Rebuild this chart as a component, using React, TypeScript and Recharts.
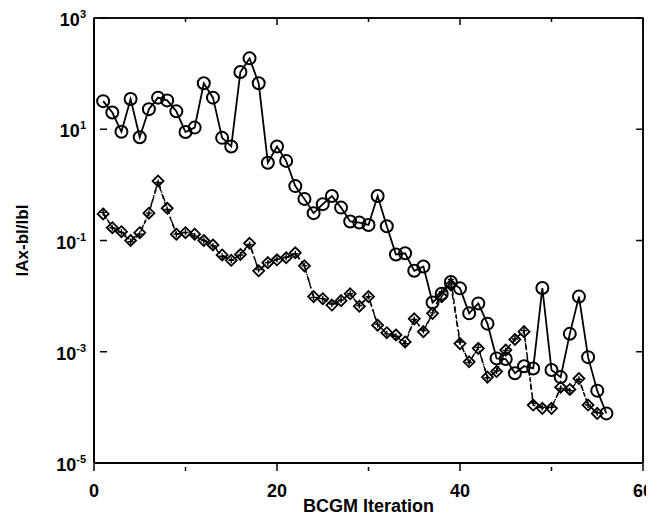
import { Line, LineChart, ReferenceArea, ReferenceLine, XAxis, YAxis } from "recharts";

const ITERATIONS = [
  1, 2, 3, 4, 5, 6, 7, 8, 9, 10, 11, 12, 13, 14, 15, 16, 17, 18, 19, 20,
  21, 22, 23, 24, 25, 26, 27, 28, 29, 30, 31, 32, 33, 34, 35, 36, 37, 38, 39, 40,
  41, 42, 43, 44, 45, 46, 47, 48, 49, 50, 51, 52, 53, 54, 55, 56
];

// solid line, open circles
const CIRCLE_RES = [
  32, 20, 9, 35, 7.2, 23, 37, 33, 21, 8.9, 10.7, 67, 37, 7, 4.9, 107, 188, 67, 2.5, 4.9,
  2.7, 0.95, 0.56, 0.31, 0.45, 0.63, 0.39, 0.22, 0.21, 0.19, 0.63, 0.18, 0.056, 0.059, 0.0285, 0.034, 0.0077, 0.011, 0.018, 0.0138,
  0.0049, 0.0074, 0.0032, 0.00076, 0.00074, 0.00041, 0.00055, 0.0005, 0.014, 0.00047, 0.00035, 0.0021, 0.0098, 0.0008, 0.0002, 0.000078
];

// dash-dot line, diamonds
const DIAMOND_RES = [
  0.3, 0.17, 0.144, 0.1, 0.138, 0.31, 1.17, 0.38, 0.13, 0.138, 0.13, 0.1, 0.083, 0.055, 0.044, 0.056, 0.089, 0.0285, 0.04, 0.045,
  0.049, 0.06, 0.035, 0.0098, 0.009, 0.0069, 0.0083, 0.011, 0.0066, 0.0098, 0.003, 0.0022, 0.002, 0.0015, 0.0039, 0.0023, 0.0049, 0.0098, 0.0159, 0.0014,
  0.00066, 0.00115, 0.00035, 0.00044, 0.00107, 0.00166, 0.0023, 0.00011, 0.000096, 0.000096, 0.00023, 0.00021, 0.00033, 0.00011, 0.000078
];

// dashed line, plus marks
const PLUS_RES = [
  0.32, 0.17, 0.14, 0.095, 0.13, 0.31, 1.1, 0.36, 0.13, 0.14, 0.12, 0.1, 0.08, 0.052, 0.044, 0.055, 0.085, 0.03, 0.04, 0.046,
  0.05, 0.058, 0.035, 0.0095, 0.009, 0.0072, 0.0085, 0.011, 0.0068, 0.0098, 0.0031, 0.0021, 0.0019, 0.0014, 0.0038, 0.0024, 0.005, 0.012, 0.02, 0.0015,
  0.00064, 0.0012, 0.00034, 0.00045, 0.00105, 0.0017, 0.0024, 0.00012, 0.0001, 0.0001, 0.00022, 0.0002, 0.00032, 0.00011, 0.00008
];

const Y_TICKS = [1e-5, 1e-3, 1e-1, 1e1, 1e3];
const X_TICKS = [0, 10, 20, 30, 40, 50, 60];
const X_LABELS = [0, 20, 40, 60];

const data = ITERATIONS.map((it, i) => ({
  it,
  circ: CIRCLE_RES[i],
  diam: DIAMOND_RES[i],
  plus: PLUS_RES[i]
}));

const FONT = "'Liberation Sans', Arial, sans-serif";

function LeftTick(props: any) {
  const { x, y, payload } = props;
  const exp = Math.round(Math.log10(payload.value));
  return (
    <g>
      <path d={`M${x + 14},${y}H${x + 21}`} stroke="#000" strokeWidth={1.5} fill="none" />
      <text x={x} y={y + 8} textAnchor="end" fontFamily={FONT} fontWeight="bold" fontSize={18} fill="#000">
        <tspan>10</tspan>
        <tspan dy={-8} fontSize={11}>{exp}</tspan>
      </text>
    </g>
  );
}

function BottomTick(props: any) {
  const { x, y, payload } = props;
  const major = X_LABELS.includes(payload.value);
  return (
    <g>
      <path d={`M${x},${y}V${y - (major ? 7 : 4)}`} stroke="#000" strokeWidth={1.5} fill="none" />
      {major && (
        <text x={x} y={y + 26} textAnchor="middle" fontFamily={FONT} fontWeight="bold" fontSize={18} fill="#000">
          {payload.value}
        </text>
      )}
    </g>
  );
}

function CircleDot({ cx, cy }: any) {
  if (cx == null || cy == null) return null;
  return <circle cx={cx} cy={cy} r={6} fill="none" stroke="#000" strokeWidth={2} />;
}

function DiamondDot({ cx, cy }: any) {
  if (cx == null || cy == null) return null;
  const s = 5.5;
  return (
    <polygon
      points={`${cx},${cy - s} ${cx + s},${cy} ${cx},${cy + s} ${cx - s},${cy}`}
      fill="none"
      stroke="#000"
      strokeWidth={1.8}
    />
  );
}

function PlusDot({ cx, cy }: any) {
  if (cx == null || cy == null) return null;
  return (
    <path
      d={`M${cx - 3},${cy}H${cx + 3}M${cx},${cy - 3}V${cy + 3}`}
      stroke="#000"
      strokeWidth={1.4}
      fill="none"
    />
  );
}

export default function App() {
  return (
    <LineChart
      width={646}
      height={507}
      data={data}
      margin={{ top: 10, right: 11, left: 0, bottom: 2 }}
      style={{ background: "#fff" }}
    >
      <XAxis
        dataKey="it"
        type="number"
        domain={[0, 60]}
        ticks={X_TICKS}
        interval={0}
        height={50}
        tickLine={false}
        tick={<BottomTick />}
        axisLine={{ stroke: "#000", strokeWidth: 1.5 }}
        label={{
          value: "BCGM Iteration",
          position: "insideBottom",
          offset: 1,
          fontFamily: FONT,
          fontWeight: "bold",
          fontSize: 18,
          fill: "#000"
        }}
      />
      <YAxis
        scale="log"
        type="number"
        domain={[1e-5, 1e3]}
        allowDataOverflow
        ticks={Y_TICKS}
        interval={0}
        width={86}
        tickLine={false}
        tick={<LeftTick />}
        axisLine={{ stroke: "#000", strokeWidth: 1.5 }}
        label={{
          value: "lAx-bl/lbl",
          angle: -90,
          position: "insideLeft",
          offset: 14,
          style: { textAnchor: "middle" },
          fontFamily: FONT,
          fontWeight: "bold",
          fontSize: 17,
          fill: "#000"
        }}
      />
      {/* plot frame */}
      <ReferenceArea
        x1={0}
        x2={60}
        y1={1e-5}
        y2={1e3}
        ifOverflow="visible"
        fill="none"
        stroke="#000"
        strokeWidth={1.5}
      />
      <ReferenceLine x={0} ifOverflow="visible" stroke="#000" strokeWidth={1.5} />
      <ReferenceLine x={60} ifOverflow="visible" stroke="#000" strokeWidth={1.5} />
      <ReferenceLine y={1e-5} ifOverflow="visible" stroke="#000" strokeWidth={1.5} />
      <ReferenceLine y={1e3} ifOverflow="visible" stroke="#000" strokeWidth={1.5} />
      {/* inward ticks on the right edge */}
      {Y_TICKS.map((v) => (
        <ReferenceLine
          key={`r${v}`}
          segment={[{ x: 59.25, y: v }, { x: 60, y: v }]}
          ifOverflow="visible"
          stroke="#000"
          strokeWidth={1.5}
        />
      ))}
      {/* inward ticks on the top edge */}
      {X_TICKS.map((v) => (
        <ReferenceLine
          key={`t${v}`}
          segment={[{ x: v, y: 1e3 }, { x: v, y: X_LABELS.includes(v) ? 750 : 850 }]}
          ifOverflow="visible"
          stroke="#000"
          strokeWidth={1.5}
        />
      ))}
      <Line
        dataKey="plus"
        stroke="#000"
        strokeWidth={1.4}
        strokeDasharray="5 3"
        dot={<PlusDot />}
        isAnimationActive={false}
      />
      <Line
        dataKey="diam"
        stroke="#000"
        strokeWidth={1.4}
        strokeDasharray="6 3 1.5 3"
        dot={<DiamondDot />}
        isAnimationActive={false}
      />
      <Line
        dataKey="circ"
        stroke="#000"
        strokeWidth={1.8}
        dot={<CircleDot />}
        isAnimationActive={false}
      />
    </LineChart>
  );
}
